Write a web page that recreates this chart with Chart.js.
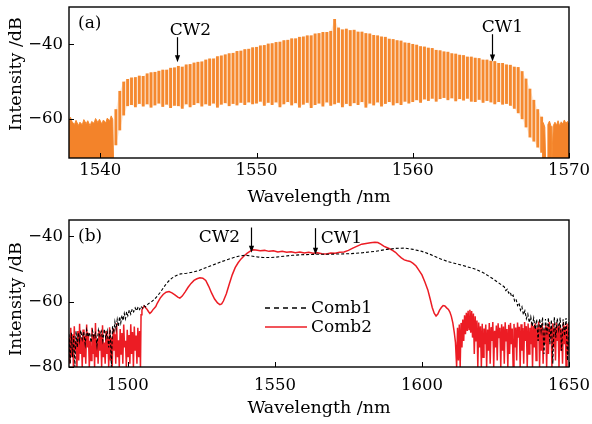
<!DOCTYPE html>
<html>
<head>
<meta charset="utf-8">
<script src="https://cdn.jsdelivr.net/npm/chart.js@4.4.1/dist/chart.umd.min.js"></script>
<style>
	html, body { margin: 0; padding: 0; background: #fff; }
	#wrap { position: relative; width: 592px; height: 424px; }
	canvas { position: absolute; left: 0; }
	#chartA { top: 0; }
	#chartB { top: 212px; }
</style>
</head>
<body>
<div id="wrap">
	<canvas id="chartA" width="592" height="212"></canvas>
	<canvas id="chartB" width="592" height="212"></canvas>
</div>
<script>
// ---------- Panel (a): comb lines ----------
const combWavelength = [
	1541.00, 1541.25, 1541.50, 1541.75, 1542.00, 1542.25, 1542.50, 1542.75,
	1543.00, 1543.25, 1543.50, 1543.75, 1544.00, 1544.25, 1544.50, 1544.75,
	1545.00, 1545.25, 1545.50, 1545.75, 1546.00, 1546.25, 1546.50, 1546.75,
	1547.00, 1547.25, 1547.50, 1547.75, 1548.00, 1548.25, 1548.50, 1548.75,
	1549.00, 1549.25, 1549.50, 1549.75, 1550.00, 1550.25, 1550.50, 1550.75,
	1551.00, 1551.25, 1551.50, 1551.75, 1552.00, 1552.25, 1552.50, 1552.75,
	1553.00, 1553.25, 1553.50, 1553.75, 1554.00, 1554.25, 1554.50, 1554.75,
	1555.00, 1555.25, 1555.50, 1555.75, 1556.00, 1556.25, 1556.50, 1556.75,
	1557.00, 1557.25, 1557.50, 1557.75, 1558.00, 1558.25, 1558.50, 1558.75,
	1559.00, 1559.25, 1559.50, 1559.75, 1560.00, 1560.25, 1560.50, 1560.75,
	1561.00, 1561.25, 1561.50, 1561.75, 1562.00, 1562.25, 1562.50, 1562.75,
	1563.00, 1563.25, 1563.50, 1563.75, 1564.00, 1564.25, 1564.50, 1564.75,
	1565.00, 1565.25, 1565.50, 1565.75, 1566.00, 1566.25, 1566.50, 1566.75,
	1567.00, 1567.25, 1567.50, 1567.75, 1568.00, 1568.25
];
const combPeak = [
	-57.5, -52.6, -50.1, -49.4, -49.0, -48.9, -48.5, -48.6,
	-47.9, -47.6, -47.5, -47.2, -46.9, -46.9, -46.4, -46.3,
	-45.9, -46.1, -45.5, -45.4, -45.0, -44.8, -44.7, -44.2,
	-43.9, -43.9, -43.3, -43.1, -42.8, -42.5, -42.4, -41.9,
	-41.8, -41.4, -41.3, -40.9, -40.8, -40.4, -40.3, -39.9,
	-39.8, -39.5, -39.4, -39.0, -38.9, -38.5, -38.5, -38.1,
	-38.0, -37.7, -37.7, -37.2, -37.1, -36.8, -36.8, -36.5,
	-33.3, -35.6, -36.1, -35.9, -36.3, -36.2, -36.7, -36.7,
	-37.1, -37.2, -37.6, -37.7, -38.0, -38.1, -38.6, -38.7,
	-39.0, -39.1, -39.6, -39.7, -40.0, -40.2, -40.6, -40.7,
	-41.0, -41.1, -41.6, -41.7, -42.0, -42.1, -42.5, -42.6,
	-42.9, -43.0, -43.4, -43.4, -43.7, -43.8, -44.2, -44.2,
	-44.5, -44.6, -45.1, -45.1, -45.5, -45.6, -46.1, -46.2,
	-47.3, -49.3, -52.0, -55.0, -57.5, -59.5
];
const combFloor = [
	-67.0, -63.0, -59.0, -56.5, -56.2, -56.8, -55.9, -56.6,
	-56.0, -56.9, -56.3, -55.8, -56.7, -56.1, -57.0, -56.4,
	-56.5, -57.2, -56.0, -56.8, -56.2, -55.7, -56.6, -56.0,
	-56.4, -55.8, -56.9, -56.1, -55.7, -56.5, -55.9, -56.3,
	-55.6, -56.2, -55.5, -56.0, -55.8, -55.3, -56.4, -55.6,
	-56.2, -55.5, -56.8, -56.0, -55.4, -56.3, -55.7, -56.9,
	-56.1, -55.6, -57.0, -56.2, -55.8, -56.6, -55.5, -56.4,
	-56.0, -55.6, -56.8, -55.9, -56.5, -55.7, -56.2, -55.4,
	-56.9, -55.8, -56.3, -55.5, -56.6, -55.9, -55.4, -56.3,
	-55.7, -56.2, -55.3, -55.8, -55.4, -54.9, -55.6, -54.7,
	-55.1, -54.5, -55.3, -54.6, -54.3, -54.9, -54.4, -55.2,
	-54.6, -55.0, -54.5, -55.3, -55.4, -54.8, -55.6, -55.1,
	-55.5, -56.0, -55.4, -56.1, -55.9, -56.4, -57.2, -58.4,
	-60.0, -62.2, -64.9, -66.0, -67.6, -69.0
];
// noise floor on both sides of the comb, [wavelength, dB]
const noiseLeftA = [
	[1538.00, -60.5], [1538.10, -59.6], [1538.20, -60.8], [1538.35, -61.5], [1538.45, -60.4],
	[1538.60, -61.8], [1538.70, -60.9], [1538.85, -61.6], [1538.95, -60.2], [1539.10, -61.3],
	[1539.20, -60.5], [1539.35, -61.9], [1539.45, -60.7], [1539.60, -61.2], [1539.70, -59.9],
	[1539.85, -61.0], [1539.95, -60.1], [1540.10, -61.4], [1540.20, -60.3], [1540.35, -61.1],
	[1540.45, -59.8], [1540.60, -60.6], [1540.70, -59.2], [1540.80, -60.2], [1540.85, -70.5]
];
const noiseRightA = [
	[1568.30, -70.5], [1568.35, -61.0], [1568.45, -62.2], [1568.50, -70.5], [1568.60, -70.5],
	[1568.65, -61.5], [1568.75, -60.6], [1568.85, -62.0], [1568.90, -70.5], [1569.00, -61.8],
	[1569.10, -60.9], [1569.20, -61.7], [1569.30, -60.5], [1569.40, -61.9], [1569.50, -60.8],
	[1569.60, -61.4], [1569.70, -60.3], [1569.80, -61.2], [1569.90, -60.7], [1570.00, -61.5]
];
const aXTicks = [ 1540, 1550, 1560, 1570 ];
const aYTicks = [ -40, -60 ];
const aMarkerLabels = [ 'CW2', 'CW1' ];
const aMarkerWl = [ 1544.9, 1565.1 ];
const aMarkerTop = [ -38.1, -37.3 ];
const aMarkerTip = [ -44.8, -44.6 ];

// ---------- Panel (b): Comb1 / Comb2 spectra, [wavelength, dB] ----------
const comb1 = [
	[1480.0, -70.0], [1480.4, -79.0], [1480.8, -69.5], [1481.2, -77.0], [1481.6, -70.5], [1482.0, -80.0],
	[1482.4, -69.0], [1482.8, -74.0], [1483.2, -69.5], [1483.6, -72.0], [1484.0, -68.8], [1484.5, -71.5],
	[1485.0, -69.2], [1485.5, -73.0], [1486.0, -68.6], [1486.5, -70.8], [1487.0, -69.4], [1487.5, -72.5],
	[1488.0, -68.9], [1488.5, -71.0], [1489.0, -69.6], [1489.5, -73.5], [1490.0, -68.7], [1490.5, -70.5],
	[1491.0, -69.1], [1491.5, -72.0], [1492.0, -68.4], [1492.5, -71.2], [1493.0, -69.0], [1493.5, -74.0],
	[1494.0, -68.5], [1494.4, -80.0], [1494.8, -67.5], [1495.2, -69.5], [1495.6, -66.2], [1496.0, -68.4],
	[1496.4, -65.5], [1496.8, -67.6], [1497.2, -64.6], [1497.6, -66.5], [1498.0, -64.2], [1498.4, -65.8],
	[1498.8, -63.6], [1499.2, -65.2], [1499.6, -63.1], [1500.0, -64.3], [1500.5, -62.5], [1501.0, -63.8],
	[1501.5, -62.2], [1502.0, -63.1], [1502.5, -61.9], [1503.0, -62.8], [1503.5, -61.6], [1504.0, -62.4],
	[1504.5, -61.4], [1505.0, -62.0], [1505.5, -61.2], [1506.0, -61.6], [1507.0, -60.6], [1508.0, -60.1],
	[1509.0, -59.3], [1510.0, -58.3], [1511.0, -57.2], [1512.0, -55.9], [1513.0, -54.6], [1514.0, -53.6],
	[1515.0, -52.8], [1516.0, -52.2], [1517.0, -51.8], [1518.0, -51.5], [1520.0, -51.3], [1522.0, -51.0],
	[1524.0, -50.5], [1526.0, -49.8], [1528.0, -49.1], [1530.0, -48.4], [1532.0, -47.7], [1534.0, -47.1],
	[1536.0, -46.5], [1538.0, -46.0], [1540.0, -45.8], [1542.0, -46.0], [1544.0, -46.3], [1546.0, -46.5],
	[1548.0, -46.5], [1550.0, -46.4], [1553.0, -46.1], [1556.0, -45.8], [1560.0, -45.6], [1564.0, -45.5],
	[1568.0, -45.5], [1572.0, -45.4], [1576.0, -45.3], [1580.0, -45.0], [1584.0, -44.6], [1588.0, -44.0],
	[1591.0, -43.7], [1594.0, -43.6], [1597.0, -44.0], [1600.0, -44.6], [1603.0, -45.6], [1606.0, -46.8],
	[1609.0, -47.8], [1612.0, -48.5], [1615.0, -49.2], [1618.0, -50.0], [1621.0, -51.2], [1624.0, -52.9],
	[1626.0, -54.2], [1628.0, -55.5], [1628.5, -56.6], [1629.0, -56.2], [1629.5, -57.4], [1630.0, -57.0],
	[1630.5, -58.5], [1631.0, -58.0], [1631.5, -59.8], [1632.0, -59.2], [1632.5, -61.2], [1633.0, -60.4],
	[1633.5, -62.6], [1634.0, -61.6], [1634.5, -64.0], [1635.0, -62.8], [1635.5, -65.2], [1636.0, -63.8],
	[1636.5, -66.4], [1637.0, -64.6], [1637.5, -67.5], [1638.0, -65.0], [1638.5, -68.5], [1639.0, -65.4],
	[1639.5, -72.0], [1640.0, -65.2], [1640.5, -69.0], [1641.0, -64.8], [1641.5, -76.0], [1642.0, -65.3],
	[1642.5, -70.0], [1643.0, -64.9], [1643.5, -73.0], [1644.0, -65.6], [1644.5, -79.0], [1645.0, -64.7],
	[1645.5, -71.0], [1646.0, -65.1], [1646.5, -68.5], [1647.0, -64.9], [1647.5, -75.0], [1648.0, -65.4],
	[1648.5, -70.5], [1649.0, -65.0], [1649.5, -78.0], [1650.0, -65.5]
];
const comb2 = [
	[1480.0, -71.0], [1480.3, -79.0], [1480.6, -68.0], [1480.9, -77.0], [1481.2, -70.0], [1481.5, -80.0],
	[1481.8, -67.5], [1482.1, -75.0], [1482.4, -72.0], [1482.7, -80.0], [1483.0, -69.0], [1483.3, -78.0],
	[1483.6, -66.8], [1483.9, -76.0], [1484.2, -71.0], [1484.5, -80.0], [1484.8, -68.5], [1485.1, -77.0],
	[1485.4, -70.5], [1485.7, -79.0], [1486.0, -67.0], [1486.3, -74.0], [1486.6, -69.5], [1486.9, -80.0],
	[1487.2, -72.0], [1487.5, -78.0], [1487.8, -68.0], [1488.1, -76.0], [1488.4, -70.0], [1488.7, -80.0],
	[1489.0, -66.5], [1489.3, -77.0], [1489.6, -71.5], [1489.9, -79.0], [1490.2, -68.8], [1490.5, -75.0],
	[1490.8, -70.0], [1491.1, -80.0], [1491.4, -67.2], [1491.7, -77.0], [1492.0, -72.5], [1492.3, -79.0],
	[1492.6, -69.0], [1492.9, -76.0], [1493.2, -70.8], [1493.5, -80.0], [1493.8, -67.8], [1494.1, -78.0],
	[1494.4, -71.0], [1494.7, -80.0], [1495.0, -68.2], [1495.3, -75.0], [1495.6, -70.0], [1495.9, -79.0],
	[1496.2, -66.6], [1496.5, -77.0], [1496.8, -71.8], [1497.1, -80.0], [1497.4, -68.4], [1497.7, -76.0],
	[1498.0, -69.6], [1498.3, -79.0], [1498.6, -67.0], [1498.9, -74.0], [1499.2, -72.0], [1499.5, -80.0],
	[1499.8, -68.6], [1500.1, -77.0], [1500.4, -70.2], [1500.7, -79.0], [1501.0, -66.9], [1501.3, -76.0],
	[1501.6, -69.3], [1501.9, -80.0], [1502.2, -67.6], [1502.5, -75.0], [1502.8, -70.4], [1503.1, -79.0],
	[1503.4, -68.0], [1503.7, -77.0], [1504.0, -69.0], [1504.3, -80.0], [1504.5, -64.0], [1504.8, -62.5],
	[1505.2, -61.8], [1505.6, -61.3], [1506.0, -61.8], [1506.5, -62.3], [1507.0, -63.0], [1507.5, -63.6],
	[1508.0, -63.2], [1508.5, -62.5], [1509.0, -62.0], [1509.5, -61.5], [1510.0, -60.5], [1511.0, -58.9],
	[1512.0, -57.8], [1513.0, -57.1], [1514.0, -56.9], [1515.0, -57.3], [1516.0, -57.9], [1517.0, -58.6],
	[1517.7, -58.9], [1518.5, -58.3], [1519.5, -57.0], [1520.5, -55.6], [1521.5, -54.4], [1522.5, -53.5],
	[1523.5, -53.0], [1524.5, -52.7], [1525.5, -52.8], [1526.5, -53.5], [1527.5, -55.3], [1528.5, -57.4],
	[1529.5, -59.2], [1530.5, -60.4], [1531.3, -60.9], [1531.9, -60.7], [1532.5, -59.8], [1533.5, -57.6],
	[1534.5, -54.6], [1535.5, -51.8], [1536.5, -49.6], [1537.5, -48.1], [1538.5, -46.9], [1539.5, -46.0],
	[1540.5, -45.2], [1541.5, -44.6], [1542.5, -44.1], [1543.5, -44.2], [1545.0, -44.4], [1546.5, -44.3],
	[1548.0, -44.6], [1549.5, -44.4], [1551.0, -44.8], [1552.5, -44.6], [1554.0, -44.9], [1555.5, -44.7],
	[1557.0, -45.0], [1558.5, -44.8], [1560.0, -45.1], [1561.5, -44.9], [1563.0, -45.2], [1564.5, -45.0],
	[1566.0, -45.3], [1567.5, -45.4], [1569.0, -45.1], [1570.5, -45.2], [1572.0, -44.9], [1573.5, -44.8],
	[1575.0, -44.3], [1576.5, -43.6], [1578.0, -43.0], [1579.5, -42.4], [1581.0, -42.2], [1582.5, -42.0],
	[1584.0, -41.8], [1585.0, -41.9], [1586.0, -42.4], [1587.0, -43.0], [1588.0, -43.4], [1589.0, -43.8],
	[1590.0, -44.3], [1591.0, -44.9], [1592.0, -45.8], [1593.0, -46.6], [1594.0, -47.2], [1595.0, -47.5],
	[1596.0, -47.7], [1597.0, -48.3], [1598.0, -49.1], [1599.0, -50.4], [1600.0, -51.8], [1601.0, -54.0],
	[1602.0, -56.4], [1602.8, -59.2], [1603.5, -61.8], [1604.2, -63.6], [1604.8, -64.4], [1605.4, -63.8],
	[1606.0, -62.6], [1606.6, -61.8], [1607.2, -61.2], [1607.8, -61.3], [1608.4, -61.9], [1609.0, -62.4],
	[1609.5, -63.2], [1610.0, -64.5], [1610.5, -66.5], [1611.0, -69.5], [1611.4, -72.5], [1611.8, -80.0],
	[1612.1, -68.0], [1612.4, -78.0], [1612.7, -67.0], [1613.0, -80.0], [1613.3, -66.5], [1613.6, -74.0],
	[1613.9, -65.5], [1614.2, -72.0], [1614.5, -64.2], [1614.8, -70.0], [1615.1, -63.4], [1615.4, -69.0],
	[1615.7, -62.8], [1616.0, -68.5], [1616.3, -62.5], [1616.6, -69.5], [1616.9, -62.9], [1617.2, -71.0],
	[1617.5, -63.6], [1617.8, -76.0], [1618.1, -64.5], [1618.4, -72.0], [1618.7, -65.8], [1619.0, -80.0],
	[1619.3, -66.4], [1619.6, -74.0], [1619.9, -67.5], [1620.2, -80.0], [1620.5, -66.8], [1620.8, -77.0],
	[1621.1, -68.2], [1621.4, -73.0], [1621.7, -67.0], [1622.0, -80.0], [1622.3, -68.5], [1622.6, -75.0],
	[1622.9, -66.5], [1623.2, -79.0], [1623.5, -67.8], [1623.8, -72.0], [1624.1, -66.2], [1624.4, -80.0],
	[1624.7, -68.9], [1625.0, -74.0], [1625.3, -67.3], [1625.6, -78.0], [1625.9, -66.6], [1626.2, -71.0],
	[1626.5, -68.0], [1626.8, -80.0], [1627.1, -66.9], [1627.4, -75.0], [1627.7, -67.6], [1628.0, -79.0],
	[1628.3, -66.3], [1628.6, -72.0], [1628.9, -68.4], [1629.2, -80.0], [1629.5, -67.1], [1629.8, -76.0],
	[1630.1, -66.5], [1630.4, -73.0], [1630.7, -68.2], [1631.0, -80.0], [1631.3, -66.8], [1631.6, -74.0],
	[1631.9, -67.9], [1632.2, -78.0], [1632.5, -66.4], [1632.8, -71.0], [1633.1, -67.7], [1633.4, -80.0],
	[1633.7, -66.9], [1634.0, -75.0], [1634.3, -68.1], [1634.6, -79.0], [1634.9, -66.2], [1635.2, -72.0],
	[1635.5, -67.5], [1635.8, -80.0], [1636.1, -66.7], [1636.4, -76.0], [1636.7, -68.0], [1637.0, -73.0],
	[1637.3, -66.3], [1637.6, -80.0], [1637.9, -67.4], [1638.2, -74.0], [1638.5, -66.6], [1638.8, -78.0],
	[1639.1, -67.9], [1639.4, -72.0], [1639.7, -66.1], [1640.0, -80.0], [1640.3, -67.2], [1640.6, -75.0],
	[1640.9, -66.5], [1641.2, -79.0], [1641.5, -68.3], [1641.8, -73.0], [1642.1, -66.8], [1642.4, -80.0],
	[1642.7, -67.6], [1643.0, -76.0], [1643.3, -66.2], [1643.6, -71.0], [1643.9, -67.9], [1644.2, -80.0],
	[1644.5, -66.6], [1644.8, -74.0], [1645.1, -68.0], [1645.4, -78.0], [1645.7, -66.4], [1646.0, -72.0],
	[1646.3, -67.5], [1646.6, -80.0], [1646.9, -66.9], [1647.2, -75.0], [1647.5, -68.2], [1647.8, -79.0],
	[1648.1, -66.3], [1648.4, -73.0], [1648.7, -67.4], [1649.0, -80.0], [1649.3, -66.7], [1649.6, -76.0],
	[1650.0, -67.0]
];
const bXTicks = [ 1500, 1550, 1600, 1650 ];
const bYTicks = [ -40, -60, -80 ];
const bMarkerLabels = [ 'CW2', 'CW1' ];
const bMarkerWl = [ 1541.8, 1563.6 ];
const bMarkerTop = [ -37.3, -37.5 ];
const bMarkerTip = [ -45.0, -45.6 ];

// ---------- styling ----------
const FONT = '"DejaVu Serif", "Liberation Serif", serif';
const ORANGE = '#f5892f';
const RED = '#ec1c24';

const pts = ( pairs ) => pairs.map( ( [ x, y ] ) => ( { x, y } ) );

function axes( xRange, yRange, xTicks, yTicks, o ) {
	return {
		x: {
			type: 'linear', min: xRange[ 0 ], max: xRange[ 1 ], offset: false,
			grid: { display: false, drawTicks: false, offset: false }, border: { display: false },
			afterBuildTicks: ( s ) => { s.ticks = xTicks.map( ( value ) => ( { value } ) ); },
			afterFit: ( s ) => { s.height = o.xHeight; s.paddingLeft = 0; s.paddingRight = 0; },
			ticks: { color: '#000', font: { family: FONT, size: 16.5 }, padding: o.xTickPad, maxRotation: 0, autoSkip: false, callback: ( v ) => String( v ) },
			title: { display: true, text: 'Wavelength /nm', color: '#000', font: { family: FONT, size: 17.5 }, padding: { top: 0, bottom: o.xTitlePad } },
		},
		y: {
			type: 'linear', min: yRange[ 0 ], max: yRange[ 1 ], beginAtZero: false,
			grid: { display: false, drawTicks: false }, border: { display: false },
			afterBuildTicks: ( s ) => { s.ticks = yTicks.map( ( value ) => ( { value } ) ); },
			afterFit: ( s ) => { s.width = 69; s.paddingTop = 0; s.paddingBottom = 0; },
			ticks: { color: '#000', font: { family: FONT, size: 16.5 }, padding: 6, callback: ( v ) => '\u2212' + Math.abs( v ) },
		},
	};
}

// frame, inward ticks, panel tag, arrows, y title and (optionally) legend
function decor( p ) {
	return {
		id: 'decor',
		afterDatasetsDraw( chart ) {
			const { ctx, chartArea: a, scales: { x, y } } = chart;
			ctx.save();
			ctx.strokeStyle = '#000';
			ctx.fillStyle = '#000';
			ctx.lineWidth = 1;
			ctx.beginPath();
			x.ticks.forEach( ( t ) => {
				const px = Math.round( x.getPixelForValue( t.value ) ) + 0.5;
				ctx.moveTo( px, a.bottom ); ctx.lineTo( px, a.bottom - 5 );
			} );
			y.ticks.forEach( ( t ) => {
				const py = Math.round( y.getPixelForValue( t.value ) ) + 0.5;
				ctx.moveTo( a.left, py ); ctx.lineTo( a.left + 5, py );
			} );
			ctx.stroke();
			ctx.lineWidth = 1.4;
			ctx.strokeRect( a.left, a.top, a.right - a.left, a.bottom - a.top );

			ctx.font = `17px ${ FONT }`;
			ctx.textBaseline = 'alphabetic';
			ctx.textAlign = 'left';
			ctx.fillText( p.tag, a.left + 9, p.tagBase );

			ctx.textAlign = 'center';
			p.labels.forEach( ( label, i ) => {
				const ax = Math.round( x.getPixelForValue( p.wl[ i ] ) ) + 0.5;
				const top = y.getPixelForValue( p.top[ i ] );
				const tip = y.getPixelForValue( p.tip[ i ] );
				ctx.lineWidth = 1.2;
				ctx.beginPath(); ctx.moveTo( ax, top ); ctx.lineTo( ax, tip - 6 ); ctx.stroke();
				ctx.beginPath(); ctx.moveTo( ax - 2.6, tip - 7 ); ctx.lineTo( ax + 2.6, tip - 7 ); ctx.lineTo( ax, tip ); ctx.closePath(); ctx.fill();
				ctx.fillText( label, ax + p.text[ i ][ 0 ], top + p.text[ i ][ 1 ] );
			} );

			ctx.save();
			ctx.font = `17.5px ${ FONT }`;
			ctx.translate( 16.5, p.yTitleY );
			ctx.rotate( -Math.PI / 2 );
			ctx.textBaseline = 'middle';
			ctx.fillText( 'Intensity /dB', 0, 0 );
			ctx.restore();

			if ( p.legend ) {
				ctx.font = `17px ${ FONT }`;
				ctx.textAlign = 'left';
				ctx.textBaseline = 'middle';
				p.legend.forEach( ( row ) => {
					const ds = chart.data.datasets[ row.index ];
					ctx.strokeStyle = ds.borderColor;
					ctx.lineWidth = 1.3;
					ctx.setLineDash( row.dash );
					ctx.beginPath(); ctx.moveTo( 265, row.y ); ctx.lineTo( 307, row.y ); ctx.stroke();
					ctx.setLineDash( [] );
					ctx.fillText( ds.label, 311, row.y + 1 );
				} );
			}
			ctx.restore();
		},
	};
}

const common = {
	responsive: false,
	animation: false,
	events: [],
	plugins: { legend: { display: false }, tooltip: { enabled: false } },
};

new Chart( document.getElementById( 'chartA' ), {
	type: 'bar',
	data: {
		datasets: [
			{
				type: 'bar', label: 'comb', order: 1, grouped: false,
				data: combWavelength.map( ( x, i ) => ( { x, y: [ combFloor[ i ], combPeak[ i ] ] } ) ),
				backgroundColor: ORANGE, borderWidth: 0, barThickness: 2.2,
			},
			{
				type: 'line', label: 'envelope', order: 3, fill: '+1',
				data: combWavelength.map( ( x, i ) => ( { x, y: combPeak[ i ] } ) ),
				borderWidth: 0, pointRadius: 0, backgroundColor: 'rgba(245,137,47,0.16)',
			},
			{
				type: 'line', label: 'floor', order: 3, fill: false,
				data: combWavelength.map( ( x, i ) => ( { x, y: combFloor[ i ] } ) ),
				borderWidth: 0, pointRadius: 0,
			},
			{
				type: 'line', label: 'noise left', order: 2, fill: 'start',
				data: pts( noiseLeftA ), borderColor: ORANGE, borderWidth: 1, pointRadius: 0, backgroundColor: '#f3832a',
			},
			{
				type: 'line', label: 'noise right', order: 2, fill: 'start',
				data: pts( noiseRightA ), borderColor: ORANGE, borderWidth: 1, pointRadius: 0, backgroundColor: '#f3832a',
			},
		],
	},
	options: {
		...common,
		layout: { padding: { left: 0, right: 23, top: 7, bottom: 0 } },
		scales: axes( [ 1538, 1570 ], [ -70.5, -30 ], aXTicks, aYTicks, { xHeight: 54, xTickPad: 3, xTitlePad: 4 } ),
	},
	plugins: [ decor( {
		tag: '(a)', tagBase: 28, yTitleY: 74,
		labels: aMarkerLabels, wl: aMarkerWl, top: aMarkerTop, tip: aMarkerTip,
		text: [ [ 13, -2 ], [ 10, -2 ] ],
	} ) ],
} );

new Chart( document.getElementById( 'chartB' ), {
	type: 'line',
	data: {
		datasets: [
			{
				label: 'Comb1', order: 0, data: pts( comb1 ),
				borderColor: '#000', borderWidth: 1.1, borderDash: [ 3, 2 ], pointRadius: 0, tension: 0, fill: false,
			},
			{
				label: 'Comb2', order: 1, data: pts( comb2 ),
				borderColor: RED, borderWidth: 1.5, pointRadius: 0, tension: 0, fill: false,
			},
		],
	},
	options: {
		...common,
		layout: { padding: { left: 0, right: 23, top: 8, bottom: 0 } },
		scales: axes( [ 1480, 1650 ], [ -80, -35 ], bXTicks, bYTicks, { xHeight: 57, xTickPad: 9, xTitlePad: 5.5 } ),
	},
	plugins: [ decor( {
		tag: '(b)', tagBase: 29, yTitleY: 87,
		labels: bMarkerLabels, wl: bMarkerWl, top: bMarkerTop, tip: bMarkerTip,
		text: [ [ -32, 14 ], [ 26, 15 ] ],
		legend: [ { index: 0, y: 96, dash: [ 5, 4 ] }, { index: 1, y: 115, dash: [] } ],
	} ) ],
} );
</script>
</body>
</html>
